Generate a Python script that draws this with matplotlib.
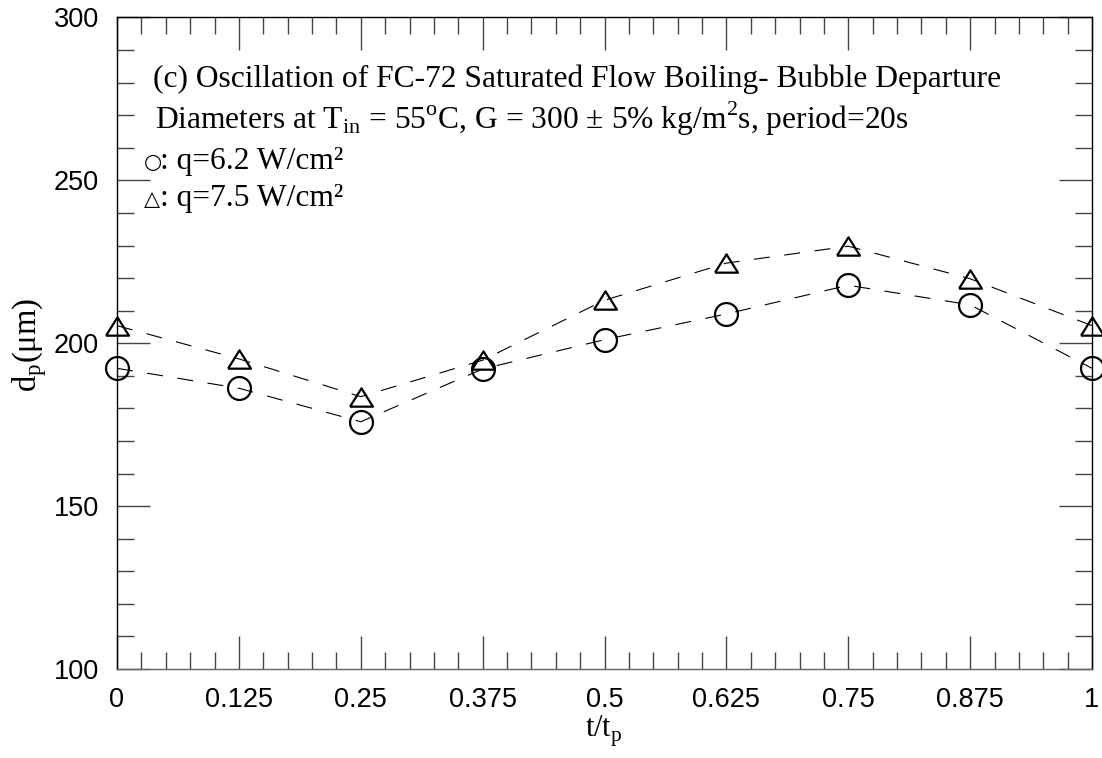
import matplotlib

matplotlib.use("Agg")
import matplotlib.pyplot as plt
from matplotlib.ticker import FixedLocator, MultipleLocator

plt.rcParams["mathtext.fontset"] = "custom"
plt.rcParams["mathtext.rm"] = "Liberation Serif"
plt.rcParams["lines.scale_dashes"] = False

# t/tp positions and departure diameters (um)
t_frac = [0, 0.125, 0.25, 0.375, 0.5, 0.625, 0.75, 0.875, 1]
t_labels = ["0", "0.125", "0.25", "0.375", "0.5", "0.625", "0.75", "0.875", "1"]
d_q62 = [192.3, 186.2, 175.9, 192.1, 201.1, 209.0, 217.8, 211.8, 192.3]
d_q75 = [205.4, 195.2, 183.6, 194.8, 213.2, 224.6, 229.8, 219.8, 205.4]

SERIF = ["Liberation Serif", "DejaVu Serif"]
SANS = "Liberation Sans"
TRI = [(-1, -0.8), (1, -0.8), (0, 0.8), (-1, -0.8)]

fig = plt.figure(figsize=(11.02, 7.58), dpi=100)
ax = fig.add_axes([117 / 1102, 89 / 758, 975 / 1102, 651.5 / 758])

common = dict(color="black", lw=0.8, dashes=(11.5, 10.5), mfc="none",
              mec="black", mew=1.6, ms=16.5, clip_on=False, zorder=3)
ax.plot(t_frac, d_q62, marker="o", **common)
ax.plot(t_frac, d_q75, marker=TRI, **common)

ax.set_xlim(0, 1)
ax.set_ylim(100, 300)
ax.xaxis.set_major_locator(FixedLocator(t_frac))
ax.set_xticklabels(t_labels)
ax.xaxis.set_minor_locator(MultipleLocator(0.025))
ax.yaxis.set_major_locator(MultipleLocator(50))
ax.yaxis.set_minor_locator(MultipleLocator(10))
ax.tick_params(which="both", direction="in", top=True, right=True,
               color="#444444", width=1.0)
ax.tick_params(which="major", length=23.5, pad=13, labelsize=19.5)
ax.tick_params(which="minor", length=12)
for lab in ax.get_xticklabels() + ax.get_yticklabels():
    lab.set_family(SANS)
for side in ("left", "right", "top"):
    ax.spines[side].set_color("black")
    ax.spines[side].set_linewidth(1.0)
ax.spines["bottom"].set_color("#666666")
ax.spines["bottom"].set_linewidth(1.0)


def px(x, y):
    return x / 1102, 1 - y / 758


# axis labels
fig.text(*px(604, 731), r"t/t$_\mathregular{p}$", family=SERIF,
         fontsize=22, ha="center", va="center")
fig.text(*px(30, 345), r"d$_\mathregular{p}$(μm)", family=SERIF,
         fontsize=23.5, rotation=90, ha="center", va="center")

# annotation block
fs = 22.7
fig.text(*px(153, 87),
         "(c) Oscillation of FC-72 Saturated Flow Boiling- Bubble Departure",
         family=SERIF, fontsize=fs, va="baseline")
fig.text(*px(155, 129),
         r"Diameters at T$_\mathregular{in}$ = 55$^\mathregular{o}$C, "
         r"G = 300 ± 5% kg/m$^\mathregular{2}$s, period=20s",
         family=SERIF, fontsize=fs, va="baseline")
fig.text(*px(144, 168), "○", family="DejaVu Sans", fontsize=15, va="baseline")
fig.text(*px(160, 169), ": q=6.2 W/cm²", family=SERIF, fontsize=fs, va="baseline")
fig.text(*px(144, 205), "△", family="DejaVu Sans", fontsize=15, va="baseline")
fig.text(*px(160, 206), ": q=7.5 W/cm²", family=SERIF, fontsize=fs, va="baseline")

fig.savefig("out.png", dpi=100)
